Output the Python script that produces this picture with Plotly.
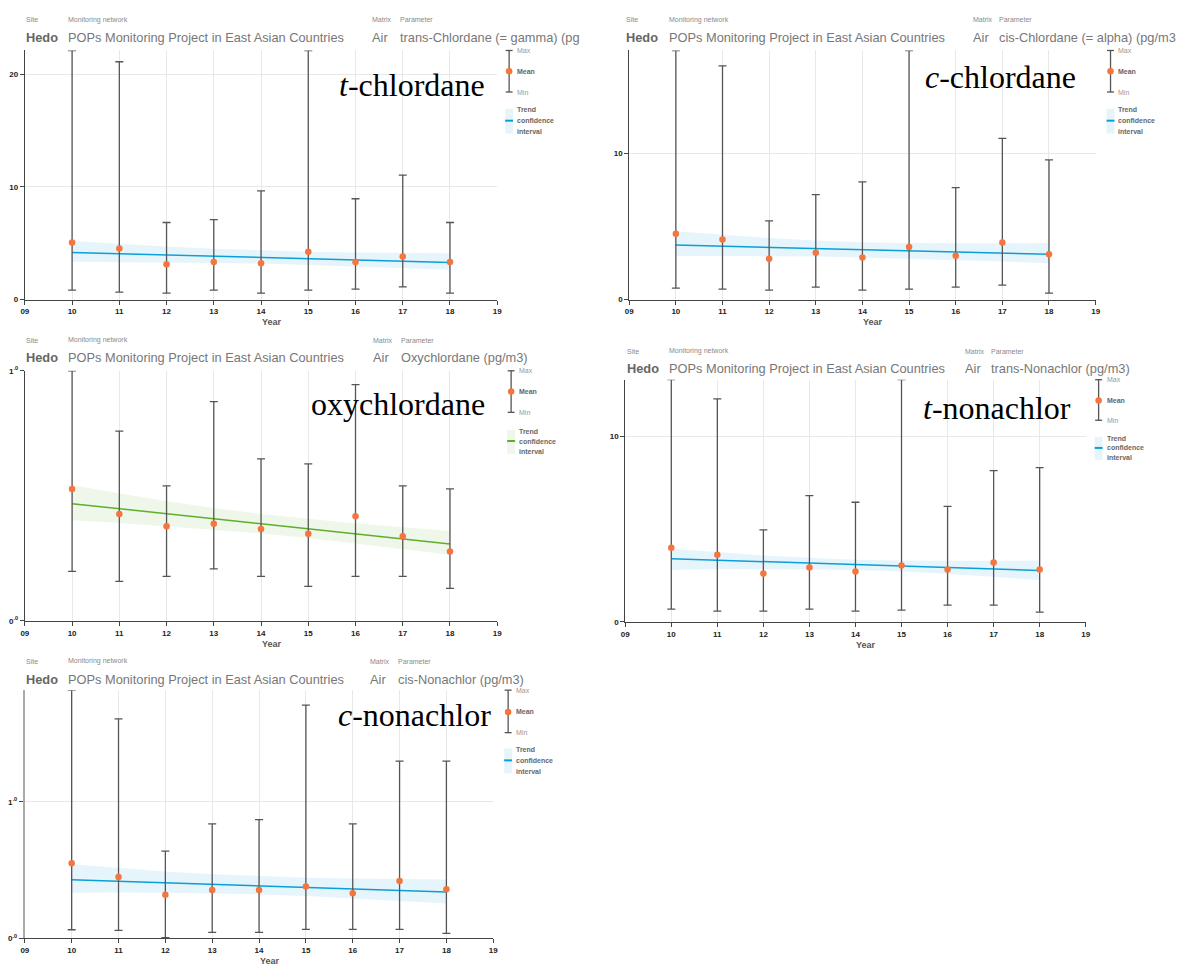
import plotly.graph_objects as go

W, H = 1184, 971

# ---------------- data ----------------
years = [10, 11, 12, 13, 14, 15, 16, 17, 18]
trend_years = [10, 18]
x_tickvals = [9, 10, 11, 12, 13, 14, 15, 16, 17, 18, 19]
x_ticklabels = ["09", "10", "11", "12", "13", "14", "15", "16", "17", "18", "19"]

# t-chlordane (trans-Chlordane)
tc_max = [22.1, 21.1, 6.84, 7.1, 9.65, 22.1, 8.95, 11.05, 6.84]
tc_mean = [5.06, 4.53, 3.13, 3.33, 3.22, 4.24, 3.33, 3.83, 3.33]
tc_min = [0.85, 0.67, 0.58, 0.85, 0.58, 0.85, 0.94, 1.14, 0.58]
tc_trend = [4.18, 3.30]
tc_upper = [5.20, 4.95, 4.72, 4.52, 4.36, 4.25, 4.18, 4.14, 4.12]
tc_lower = [3.36, 3.34, 3.30, 3.26, 3.20, 3.09, 2.95, 2.80, 2.66]

# c-chlordane (cis-Chlordane)
cc_max = [17.0, 15.95, 5.38, 7.16, 8.04, 17.0, 7.64, 11.0, 9.53]
cc_mean = [4.50, 4.10, 2.79, 3.20, 2.88, 3.60, 3.00, 3.90, 3.09]
cc_min = [0.79, 0.72, 0.65, 0.86, 0.65, 0.72, 0.86, 0.99, 0.45]
cc_trend = [3.72, 3.09]
cc_upper = [4.66, 4.42, 4.20, 4.03, 3.92, 3.87, 3.85, 3.85, 3.87]
cc_lower = [2.97, 2.98, 2.97, 2.94, 2.88, 2.80, 2.70, 2.60, 2.48]

# oxychlordane
ox_max = [1.0, 0.759, 0.54, 0.877, 0.648, 0.628, 0.945, 0.54, 0.528]
ox_mean = [0.528, 0.428, 0.379, 0.389, 0.368, 0.349, 0.419, 0.339, 0.278]
ox_min = [0.198, 0.158, 0.178, 0.208, 0.178, 0.138, 0.178, 0.178, 0.130]
ox_trend = [0.469, 0.308]
ox_upper = [0.544, 0.510, 0.480, 0.452, 0.428, 0.408, 0.390, 0.375, 0.360]
ox_lower = [0.403, 0.392, 0.379, 0.365, 0.350, 0.332, 0.310, 0.288, 0.265]

# t-nonachlor (trans-Nonachlor)
tn_max = [13.03, 12.0, 4.95, 6.8, 6.44, 13.03, 6.22, 8.14, 8.3]
tn_mean = [3.99, 3.62, 2.60, 2.93, 2.71, 3.03, 2.82, 3.20, 2.82]
tn_min = [0.69, 0.58, 0.58, 0.69, 0.58, 0.64, 0.90, 0.90, 0.53]
tn_trend = [3.40, 2.77]
tn_upper = [3.94, 3.75, 3.58, 3.45, 3.35, 3.30, 3.28, 3.28, 3.30]
tn_lower = [2.80, 2.83, 2.84, 2.83, 2.80, 2.73, 2.60, 2.43, 2.25]

# c-nonachlor (cis-Nonachlor)
cn_max = [1.82, 1.61, 0.64, 0.84, 0.87, 1.71, 0.84, 1.30, 1.30]
cn_mean = [0.55, 0.45, 0.32, 0.355, 0.355, 0.38, 0.33, 0.42, 0.36]
cn_min = [0.063, 0.058, 0.005, 0.043, 0.043, 0.065, 0.065, 0.065, 0.036]
cn_trend = [0.43, 0.34]
cn_upper = [0.543, 0.515, 0.490, 0.470, 0.455, 0.445, 0.438, 0.434, 0.432]
cn_lower = [0.335, 0.336, 0.335, 0.330, 0.322, 0.310, 0.294, 0.275, 0.255]

parameters = ["trans-Chlordane (= gamma) (pg", "cis-Chlordane (= alpha) (pg/m3",
              "Oxychlordane (pg/m3)", "trans-Nonachlor (pg/m3)", "cis-Nonachlor (pg/m3)"]
overlay_labels = ["<i>t</i>-chlordane", "<i>c</i>-chlordane", "oxychlordane",
                  "<i>t</i>-nonachlor", "<i>c</i>-nonachlor"]
site = "Hedo"
network = "POPs Monitoring Project in East Asian Countries"
matrix = "Air"

# ---------------- styling / layout ----------------
ORANGE = "#F4763E"
BAR = "#555555"
BLUE = "#0A9FD8"
BLUE_BAND = "rgba(10,159,216,0.10)"
GREEN = "#5DAF2A"
GREEN_BAND = "rgba(93,175,42,0.10)"
GRID = "#e8e8e8"
FONT = "Liberation Sans, Arial, sans-serif"

panels = [
    dict(mx=tc_max, mn=tc_mean, mi=tc_min, tr=tc_trend, up=tc_upper, lo=tc_lower,
         top=22.1, yt=[0, 10, 20], ytt=["<b>0</b>", "<b>10</b>", "<b>20</b>"],
         x0=21, x1=497, y0=45, y1=297, color=BLUE, band=BLUE_BAND,
         hx=21, hx2=63, hx3=370, hx4=398, hy=14, ov=(487, 80),
         lx=509, ly=(45, 66, 87), ty=(105, 116, 127)),
    dict(mx=cc_max, mn=cc_mean, mi=cc_min, tr=cc_trend, up=cc_upper, lo=cc_lower,
         top=17.0, yt=[0, 10], ytt=["<b>0</b>", "<b>10</b>"],
         x0=630, x1=1100, y0=45, y1=297, color=BLUE, band=BLUE_BAND,
         hx=626, hx2=669, hx3=975, hx4=1002, hy=14, ov=(1082, 72),
         lx=1115, ly=(45, 66, 87), ty=(105, 116, 127)),
    dict(mx=ox_max, mn=ox_mean, mi=ox_min, tr=ox_trend, up=ox_upper, lo=ox_lower,
         top=1.0, yt=[0, 1.0], ytt=["<b>0<sup>.0</sup></b>", "<b>1<sup>.0</sup></b>"],
         x0=21, x1=497, y0=369, y1=622, color=GREEN, band=GREEN_BAND,
         hx=21, hx2=63, hx3=371, hx4=399, hy=338, ov=(487, 403),
         lx=511, ly=(369, 390, 411), ty=(430, 440, 451)),
    dict(mx=tn_max, mn=tn_mean, mi=tn_min, tr=tn_trend, up=tn_upper, lo=tn_lower,
         top=13.03, yt=[0, 10], ytt=["<b>0</b>", "<b>10</b>"],
         x0=626, x1=1090, y0=378, y1=623, color=BLUE, band=BLUE_BAND,
         hx=627, hx2=669, hx3=967, hx4=994, hy=349, ov=(1077, 407),
         lx=1103, ly=(378, 399, 419), ty=(437, 447, 457)),
    dict(mx=cn_max, mn=cn_mean, mi=cn_min, tr=cn_trend, up=cn_upper, lo=cn_lower,
         top=1.82, yt=[0, 1.0], ytt=["<b>0<sup>.0</sup></b>", "<b>1<sup>.0</sup></b>"],
         x0=21, x1=493, y0=692, y1=943, color=BLUE, band=BLUE_BAND,
         hx=21, hx2=63, hx3=368, hx4=396, hy=663, ov=(493, 717),
         lx=508, ly=(692, 714, 735), ty=(752, 763, 774)),
]


def px(x):
    return x / W


def py(y):
    return 1 - y / H


fig = go.Figure()
annotations = []
shapes = []
layout_axes = {}

for i, p in enumerate(panels, start=1):
    xa = "x" if i == 1 else f"x{i}"
    ya = "y" if i == 1 else f"y{i}"
    # confidence band
    fig.add_trace(go.Scatter(
        x=years + years[::-1], y=p["up"] + p["lo"][::-1], xaxis=xa, yaxis=ya,
        fill="toself", fillcolor=p["band"], line=dict(width=0), mode="lines",
        hoverinfo="skip", showlegend=False))
    # trend line
    fig.add_trace(go.Scatter(
        x=trend_years, y=p["tr"], xaxis=xa, yaxis=ya, mode="lines",
        line=dict(color=p["color"], width=1.5), showlegend=False))
    # mean with min/max bars
    fig.add_trace(go.Scatter(
        x=years, y=p["mn"], xaxis=xa, yaxis=ya, mode="markers",
        marker=dict(color=ORANGE, size=6.5),
        error_y=dict(type="data", symmetric=False,
                     array=[a - b for a, b in zip(p["mx"], p["mn"])],
                     arrayminus=[b - c for b, c in zip(p["mn"], p["mi"])],
                     color=BAR, thickness=1.3, width=4),
        cliponaxis=False, showlegend=False))

    xkey = "xaxis" if i == 1 else f"xaxis{i}"
    ykey = "yaxis" if i == 1 else f"yaxis{i}"
    layout_axes[xkey] = dict(
        domain=[px(p["x0"]), px(p["x1"])], range=[9, 19], anchor=ya,
        tickvals=x_tickvals, ticktext=[f"<b>{t}</b>" for t in x_ticklabels],
        tickfont=dict(size=8, color="#222", family=FONT),
        showgrid=True, gridcolor=GRID, gridwidth=1, zeroline=False,
        showline=True, linecolor="#444", linewidth=1,
        ticks="outside", ticklen=4, tickcolor="#444", fixedrange=True)
    layout_axes[ykey] = dict(
        domain=[py(p["y1"]), py(p["y0"])], range=[0, p["top"]], anchor=xa,
        tickvals=p["yt"], ticktext=p["ytt"],
        tickfont=dict(size=8, color="#222", family=FONT),
        showgrid=True, gridcolor=GRID, gridwidth=1, zeroline=False,
        showline=True, linecolor="#444" if i != 5 else "#aaaaaa",
        linewidth=1 if i != 5 else 2,
        ticks="outside", ticklen=4, tickcolor="#444", fixedrange=True)

    # header
    small = dict(size=7, color="#8a8a8a", family=FONT)
    big = dict(size=12.8, color="#777777", family=FONT)
    for xx, txt in [(p["hx"], "Site"), (p["hx2"], "Monitoring network"),
                    (p["hx3"], "Matrix"), (p["hx4"], "Parameter")]:
        annotations.append(dict(x=px(xx - 1), y=py(p["hy"]), xref="paper", yref="paper",
                                text=txt, showarrow=False, xanchor="left",
                                yanchor="middle", font=small))
    hy2 = p["hy"] + 18
    annotations.append(dict(x=px(p["hx"] - 1), y=py(hy2), xref="paper", yref="paper",
                            text=f"<b>{site}</b>", showarrow=False, xanchor="left",
                            yanchor="middle", font=dict(size=12.8, color="#666", family=FONT)))
    for xx, txt in [(p["hx2"], network), (p["hx3"], matrix), (p["hx4"], parameters[i - 1])]:
        annotations.append(dict(x=px(xx - 1), y=py(hy2), xref="paper", yref="paper",
                                text=txt, showarrow=False, xanchor="left",
                                yanchor="middle", font=big))

    # overlay label
    annotations.append(dict(x=px(p["ov"][0]), y=py(p["ov"][1]), xref="paper", yref="paper",
                            text=overlay_labels[i - 1], showarrow=False, xanchor="right",
                            yanchor="middle",
                            font=dict(size=32, color="#000", family="Liberation Serif, Times New Roman, serif")))

    # Year label
    annotations.append(dict(x=px((p["x0"] + p["x1"]) / 2 + 11), y=py(p["y1"] + 23), xref="paper",
                            yref="paper", text="<b>Year</b>", showarrow=False,
                            xanchor="center", yanchor="middle",
                            font=dict(size=9, color="#555", family=FONT)))

    # legend: max / mean / min symbol
    lx = p["lx"]
    lt, lm, lb = p["ly"]
    shapes.append(dict(type="line", xref="paper", yref="paper", x0=px(lx), x1=px(lx),
                       y0=py(lt), y1=py(lb), line=dict(color=BAR, width=1.3)))
    for yy in (lt, lb):
        shapes.append(dict(type="line", xref="paper", yref="paper", x0=px(lx - 3.5),
                           x1=px(lx + 3.5), y0=py(yy), y1=py(yy),
                           line=dict(color=BAR, width=1.3)))
    shapes.append(dict(type="circle", xref="paper", yref="paper", x0=px(lx - 3.3),
                       x1=px(lx + 3.3), y0=py(lm - 3.3), y1=py(lm + 3.3),
                       fillcolor=ORANGE, line=dict(width=0)))
    lab_x = px(lx + 6)
    annotations.append(dict(x=lab_x, y=py(lt), xref="paper", yref="paper", text="Max",
                            showarrow=False, xanchor="left", yanchor="middle",
                            font=dict(size=7, color="#999", family=FONT)))
    annotations.append(dict(x=lab_x, y=py(lm), xref="paper", yref="paper", text="<b>Mean</b>",
                            showarrow=False, xanchor="left", yanchor="middle",
                            font=dict(size=7, color="#666", family=FONT)))
    annotations.append(dict(x=lab_x, y=py(lb), xref="paper", yref="paper", text="Min",
                            showarrow=False, xanchor="left", yanchor="middle",
                            font=dict(size=7, color="#999", family=FONT)))
    # legend: trend / confidence interval
    t1, t2, t3 = p["ty"]
    shapes.append(dict(type="rect", xref="paper", yref="paper", x0=px(lx - 4), x1=px(lx + 4),
                       y0=py(t1 - 1), y1=py(t3 + 2), fillcolor=p["band"], line=dict(width=0)))
    shapes.append(dict(type="line", xref="paper", yref="paper", x0=px(lx - 4), x1=px(lx + 4),
                       y0=py(t2), y1=py(t2), line=dict(color=p["color"], width=2)))
    for yy, txt in [(t1, "Trend"), (t2, "confidence"), (t3, "interval")]:
        annotations.append(dict(x=lab_x, y=py(yy), xref="paper", yref="paper",
                                text=f"<b>{txt}</b>", showarrow=False, xanchor="left",
                                yanchor="middle", font=dict(size=7, color="#666", family=FONT)))

fig.update_layout(
    width=W, height=H, autosize=False,
    margin=dict(l=0, r=0, t=0, b=0),
    paper_bgcolor="white", plot_bgcolor="white",
    showlegend=False,
    annotations=annotations, shapes=shapes,
    **layout_axes)

fig.write_html("out.html", post_script="document.body.style.margin='0';",
               config=dict(displayModeBar=False))
